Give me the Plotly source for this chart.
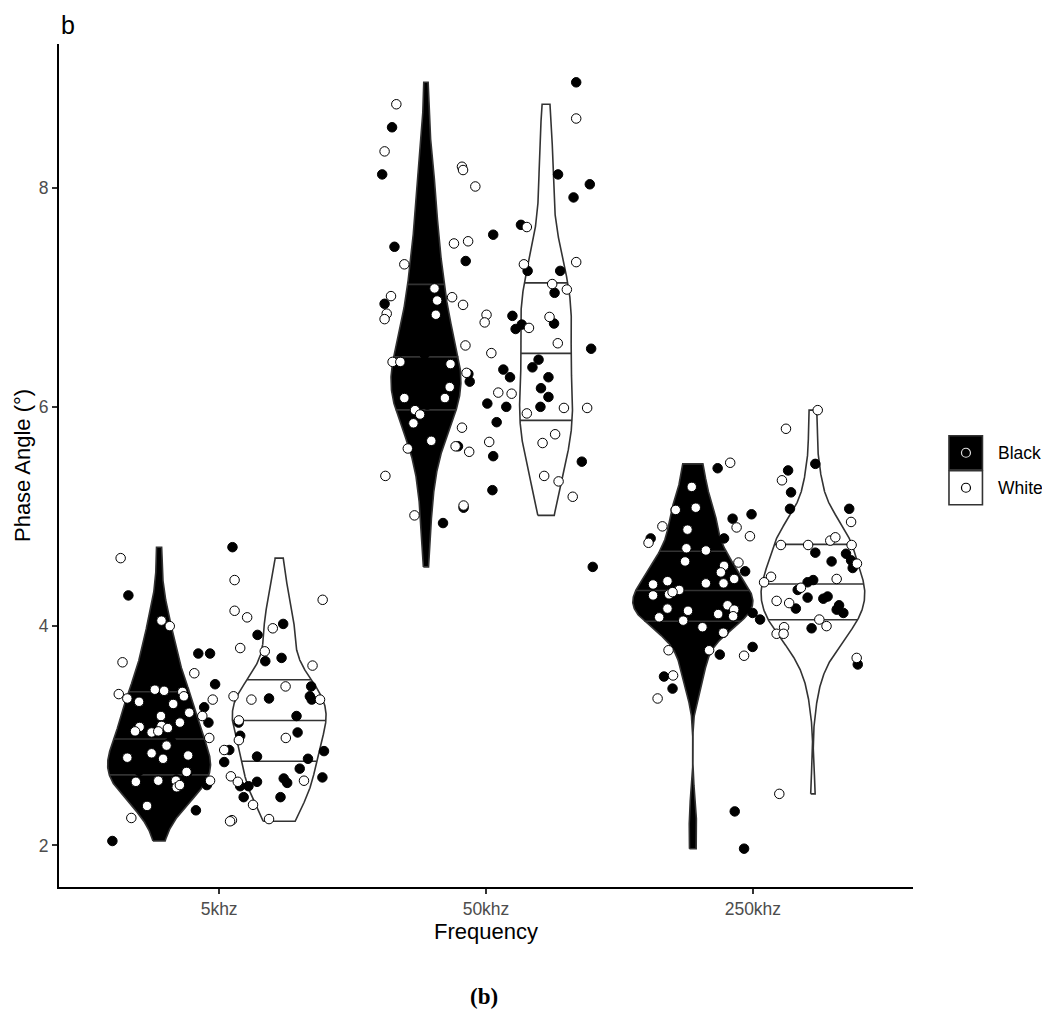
import numpy as np
import plotly.graph_objects as go

FREQS = ["5khz", "50khz", "250khz"]
GROUPS = ["Black", "White"]

# phase angle values; jitter = horizontal offset of each
# point from the category centre (as drawn). Black points hidden inside the
# black violins are estimated.
black_5k_val = [4.28, 2.04, 3.26, 3.12, 3.75, 3.75, 3.47, 2.55, 2.32, 4.72,
                3.92, 4.02, 3.68, 3.71, 3.45, 3.36, 3.33, 3.34, 3.12, 3.00,
                3.18, 3.03, 2.86, 2.79, 2.81, 2.87, 2.76, 2.70, 2.62, 2.61,
                2.57, 2.58, 2.54, 2.54, 2.44, 2.44,
                3.33, 3.37, 3.05, 2.92, 2.80, 2.81, 2.66, 2.60, 2.54, 2.37,
                3.10, 4.04, 2.72, 2.85, 2.95, 3.20, 3.55, 2.68]
black_5k_jit = [-0.34, -0.40, -0.056, -0.04, -0.078, -0.034, -0.015, -0.046, -0.087, 0.05,
                0.144, 0.24, 0.173, 0.234, 0.345, 0.34, 0.347, 0.187, 0.073, 0.079,
                0.29, 0.294, 0.393, 0.333, 0.142, 0.038, 0.019, 0.302, 0.387, 0.242,
                0.255, 0.142, 0.079, 0.11, 0.092, 0.23,
                -0.34, -0.13, -0.31, -0.195, -0.21, -0.34, -0.12, -0.16, -0.155, -0.27,
                -0.215, -0.22, -0.25, -0.28, -0.18, -0.25, -0.20, -0.30]

white_5k_val = [4.62, 3.67, 3.38, 3.34, 3.31, 3.42, 3.41, 3.40, 3.36, 4.05,
                4.00, 3.29, 3.21, 3.18, 3.12, 3.09, 3.07, 3.08, 3.04, 3.03,
                3.04, 2.91, 2.84, 2.79, 2.80, 2.82, 2.67, 2.58, 2.59, 2.59,
                2.53, 2.55, 2.36, 2.25, 3.33, 3.18, 2.98, 3.57, 2.59, 4.42,
                4.14, 4.08, 3.80, 3.77, 3.98, 3.64, 4.24, 3.45, 3.33, 3.33,
                3.36, 3.14, 2.96, 2.98, 2.87, 2.59, 2.63, 2.58, 2.37, 2.23,
                2.22, 2.24]
white_5k_jit = [-0.369, -0.362, -0.376, -0.344, -0.30, -0.241, -0.206, -0.138, -0.132, -0.216,
                -0.185, -0.172, -0.112, -0.218, -0.147, -0.216, -0.192, -0.298, -0.315, -0.253,
                -0.228, -0.197, -0.253, -0.21, -0.344, -0.116, -0.122, -0.312, -0.228, -0.162,
                -0.159, -0.147, -0.27, -0.329, -0.024, -0.063, -0.037, -0.093, -0.034, 0.058,
                0.058, 0.105, 0.079, 0.171, 0.201, 0.35, 0.388, 0.249, 0.378, 0.121,
                0.054, 0.074, 0.074, 0.25, 0.019, 0.318, 0.044, 0.07, 0.127, 0.048,
                0.041, 0.187]

black_50k_val = [8.55, 8.12, 8.96, 8.12, 8.03, 7.91, 7.66, 7.57, 7.46, 7.33,
                 7.24, 7.24, 7.04, 6.94, 6.83, 6.75, 6.71, 6.76, 6.53, 6.43,
                 6.23, 6.34, 6.27, 6.36, 6.27, 6.17, 6.09, 6.00, 6.03, 6.00,
                 5.86, 5.64, 5.55, 5.50, 5.24, 5.08, 4.94, 4.54, 6.30,
                 6.08, 5.97, 5.93, 5.85, 5.69, 6.18, 6.41, 7.08, 6.97, 6.02,
                 6.13, 6.25, 6.35, 6.48, 6.55, 6.65, 6.80, 7.30, 7.75]
black_50k_jit = [-0.352, -0.389, 0.338, 0.27, 0.389, 0.328, 0.131, 0.027, -0.343, -0.076,
                 0.156, 0.278, 0.257, -0.38, 0.099, 0.134, 0.111, 0.255, 0.394, 0.197,
                 -0.061, 0.065, 0.09, 0.174, 0.234, 0.206, 0.234, 0.204, 0.005, 0.076,
                 0.04, -0.105, 0.027, 0.359, 0.024, -0.084, -0.161, 0.40, -0.066,
                 -0.30, -0.265, -0.245, -0.27, -0.205, -0.135, -0.32, -0.193, -0.183, -0.22,
                 -0.20, -0.24, -0.19, -0.23, -0.20, -0.24, -0.21, -0.22, -0.22]

white_50k_val = [8.76, 8.33, 8.19, 8.16, 8.01, 8.63, 7.64, 7.49, 7.51, 7.30,
                 7.30, 7.32, 7.12, 7.07, 7.01, 6.85, 6.80, 7.08, 6.97, 6.84,
                 7.00, 6.93, 6.84, 6.77, 6.56, 6.49, 6.72, 6.82, 6.58, 6.41,
                 6.41, 6.39, 6.31, 6.18, 6.08, 6.08, 6.13, 6.12, 5.99, 5.99,
                 5.94, 5.97, 5.93, 5.85, 5.81, 5.69, 5.62, 5.64, 5.59, 5.68,
                 5.67, 5.75, 5.37, 5.37, 5.32, 5.18, 5.10, 5.01]
white_50k_jit = [-0.336, -0.38, -0.09, -0.086, -0.04, 0.338, 0.153, -0.12, -0.067, -0.306,
                 0.142, 0.338, 0.248, 0.303, -0.356, -0.372, -0.38, -0.193, -0.183, -0.188,
                 -0.127, -0.086, 0.002, -0.005, -0.077, 0.02, 0.161, 0.238, 0.269, -0.35,
                 -0.321, -0.133, -0.073, -0.136, -0.154, -0.306, 0.046, 0.096, 0.292, 0.379,
                 0.153, -0.266, -0.247, -0.272, -0.09, -0.205, -0.293, -0.114, -0.063, 0.012,
                 0.212, 0.259, -0.377, 0.218, 0.272, 0.325, -0.084, -0.268]

black_250k_val = [5.44, 4.98, 5.02, 4.80, 4.80, 4.50, 4.12, 4.06, 3.74, 3.81,
                  3.54, 3.43, 5.48, 5.42, 5.22, 5.07, 5.07, 4.67, 4.66, 4.59,
                  4.60, 4.53, 4.42, 4.40, 4.33, 4.26, 4.25, 4.27, 4.16, 4.19,
                  4.15, 4.12, 3.98, 3.65, 2.31, 1.97,
                  5.06, 4.88, 4.69, 4.55, 4.39, 4.38, 4.28, 4.31, 4.14, 4.05,
                  4.15, 4.11, 4.09, 3.99, 3.94, 4.45, 4.25]
black_250k_jit = [-0.132, -0.076, -0.005, -0.108, -0.383, -0.029, -0.001, 0.027, -0.124, -0.001,
                  -0.333, -0.301, 0.234, 0.132, 0.143, 0.139, 0.361, 0.234, 0.349, 0.295,
                  0.368, 0.374, 0.226, 0.205, 0.168, 0.205, 0.264, 0.28, 0.161, 0.323,
                  0.314, 0.339, 0.22, 0.393, -0.068, -0.033,
                  -0.289, -0.245, -0.176, -0.108, -0.11, -0.374, -0.374, -0.30, -0.243, -0.261,
                  -0.07, -0.13, -0.074, -0.189, -0.111, -0.2, -0.16]

white_250k_val = [5.49, 5.27, 5.08, 5.06, 4.91, 4.88, 4.90, 4.82, 4.76, 4.71,
                  4.69, 4.59, 4.55, 4.49, 4.58, 4.43, 4.39, 4.39, 4.41, 4.38,
                  4.28, 4.29, 4.33, 4.31, 4.16, 4.14, 4.08, 4.05, 4.19, 4.15,
                  4.11, 4.09, 3.99, 3.94, 3.78, 3.78, 3.73, 3.55, 3.34, 5.97,
                  5.80, 5.33, 4.95, 4.74, 4.74, 4.78, 4.81, 4.74, 4.57, 4.45,
                  4.40, 4.35, 4.43, 4.23, 4.21, 4.06, 4.00, 3.99, 3.93, 3.93,
                  3.71, 2.47]
white_250k_jit = [-0.085, -0.229, -0.214, -0.289, -0.339, -0.245, -0.061, -0.011, -0.391, -0.249,
                  -0.176, -0.254, -0.108, -0.12, -0.054, -0.07, -0.11, -0.176, -0.32, -0.374,
                  -0.374, -0.314, -0.276, -0.301, -0.32, -0.243, -0.351, -0.261, -0.095, -0.07,
                  -0.13, -0.074, -0.189, -0.111, -0.316, -0.164, -0.033, -0.299, -0.357, 0.243,
                  0.124, 0.109, 0.368, 0.105, 0.207, 0.29, 0.309, 0.37, 0.39, 0.068,
                  0.042, 0.18, 0.314, 0.089, 0.136, 0.249, 0.276, 0.117, 0.089, 0.115,
                  0.389, 0.099]

DATA = {
    ("5khz", "Black"): (black_5k_val, black_5k_jit),
    ("5khz", "White"): (white_5k_val, white_5k_jit),
    ("50khz", "Black"): (black_50k_val, black_50k_jit),
    ("50khz", "White"): (white_50k_val, white_50k_jit),
    ("250khz", "Black"): (black_250k_val, black_250k_jit),
    ("250khz", "White"): (white_250k_val, white_250k_jit),
}

FONT = "Liberation Sans, Arial, sans-serif"
LINE = "#333333"
FILL = {"Black": "black", "White": "white"}
DODGE = 0.225  # half of the 0.9 dodge width


def kde(vals):
    """Gaussian density like R's density(bw='nrd0'), trimmed to the data range."""
    v = np.asarray(vals, dtype=float)
    n = len(v)
    q75, q25 = np.percentile(v, [75, 25])
    bw = 0.9 * min(v.std(ddof=1), (q75 - q25) / 1.34) * n ** -0.2
    grid = np.linspace(v.min(), v.max(), 512)
    z = (grid[:, None] - v[None, :]) / bw
    dens = np.exp(-0.5 * z ** 2).sum(axis=1) / (n * bw * np.sqrt(2 * np.pi))
    return grid, dens


dens = {k: kde(v[0]) for k, v in DATA.items()}
dmax = max(d.max() for _, d in dens.values())

fig = go.Figure()

# violins with quartile lines
for i, f in enumerate(FREQS):
    for g in GROUPS:
        grid, d = dens[(f, g)]
        centre = i + 1 + (-DODGE if g == "Black" else DODGE)
        hw = d / dmax * DODGE
        xs = np.concatenate([centre - hw, (centre + hw)[::-1], [centre - hw[0]]])
        ys = np.concatenate([grid, grid[::-1], [grid[0]]])
        fig.add_trace(go.Scatter(x=xs, y=ys, mode="lines", fill="toself",
                                 fillcolor=FILL[g], line=dict(color=LINE, width=1.6),
                                 hoverinfo="skip", showlegend=False))
        ecdf = np.cumsum(d) / d.sum()
        qy = np.interp([0.25, 0.5, 0.75], ecdf, grid)
        qw = np.interp(qy, grid, hw)
        qx, qyy = [], []
        for yy, ww in zip(qy, qw):
            qx += [centre - ww, centre + ww, None]
            qyy += [yy, yy, None]
        fig.add_trace(go.Scatter(x=qx, y=qyy, mode="lines",
                                 line=dict(color=LINE, width=1.6),
                                 hoverinfo="skip", showlegend=False))

# jittered points
for g in GROUPS:
    px_, py_ = [], []
    for i, f in enumerate(FREQS):
        vals, jit = DATA[(f, g)]
        px_ += [i + 1 + j for j in jit]
        py_ += list(vals)
    fig.add_trace(go.Scatter(x=px_, y=py_, mode="markers", name=g,
                             marker=dict(size=9.5, color=FILL[g],
                                         line=dict(color="black", width=1)),
                             showlegend=False))

all_vals = np.concatenate([np.asarray(v[0]) for v in DATA.values()])
span = all_vals.max() - all_vals.min()
yrange = [all_vals.min() - 0.05 * span, all_vals.max() + 0.05 * span]

# plot area in page pixels; the page body adds an 8px offset
PAGE = 8
L, R, T, B = 58.5, 913, 44, 887.5


def px(x):
    return (x - L) / (R - L)


def py(y):
    return (B - y) / (B - T)


axis_common = dict(showline=True, linecolor="black", linewidth=1.8,
                   ticks="outside", ticklen=5, tickwidth=1.6, tickcolor=LINE,
                   showgrid=False, zeroline=False,
                   tickfont=dict(family=FONT, size=17.5, color="#4D4D4D"))

shapes = []
annotations = []
for k, g in enumerate(GROUPS):
    y0 = 436 + k * 35
    shapes.append(dict(type="rect", xref="paper", yref="paper",
                       x0=px(949), x1=px(982.5), y0=py(y0), y1=py(y0 + 34),
                       fillcolor=FILL[g], line=dict(color=LINE, width=1.6)))
    ring = "#DDDDDD" if g == "Black" else "black"
    shapes.append(dict(type="circle", xref="paper", yref="paper",
                       x0=px(961.5), x1=px(970.5), y0=py(y0 + 12.5), y1=py(y0 + 21.5),
                       fillcolor=FILL[g], line=dict(color=ring, width=1.2)))
    annotations.append(dict(text=g, xref="paper", yref="paper", x=px(996),
                            y=py(y0 + 17), xanchor="left", yanchor="middle",
                            showarrow=False, font=dict(family=FONT, size=17.5, color="black")))

annotations += [
    dict(text="b", xref="paper", yref="paper", x=px(59), y=py(PAGE + 1),
         xanchor="left", yanchor="top", showarrow=False,
         font=dict(family=FONT, size=25, color="black")),
    dict(text="Frequency", xref="paper", yref="paper", x=0.5, y=py(932),
         xanchor="center", yanchor="middle", showarrow=False,
         font=dict(family=FONT, size=22, color="black")),
    dict(text="Phase Angle (°)", xref="paper", yref="paper", x=px(22), y=0.5,
         textangle=-90, xanchor="center", yanchor="middle", showarrow=False,
         font=dict(family=FONT, size=22, color="black")),
    dict(text="<b>(b)</b>", xref="paper", yref="paper", x=px(484), y=py(997),
         xanchor="center", yanchor="middle", showarrow=False,
         font=dict(family="Liberation Serif, Times New Roman, serif", size=23, color="black")),
]

fig.update_layout(
    width=1050, height=1015,
    margin=dict(l=L - PAGE, r=1050 - R + PAGE, t=T - PAGE, b=1015 - B + PAGE),
    plot_bgcolor="white", paper_bgcolor="white",
    xaxis=dict(range=[0.4, 3.6], tickvals=[1, 2, 3], ticktext=FREQS, **axis_common),
    yaxis=dict(range=yrange, tickvals=[2, 4, 6, 8], **axis_common),
    shapes=shapes, annotations=annotations, showlegend=False,
)

fig.write_html("out.html")
